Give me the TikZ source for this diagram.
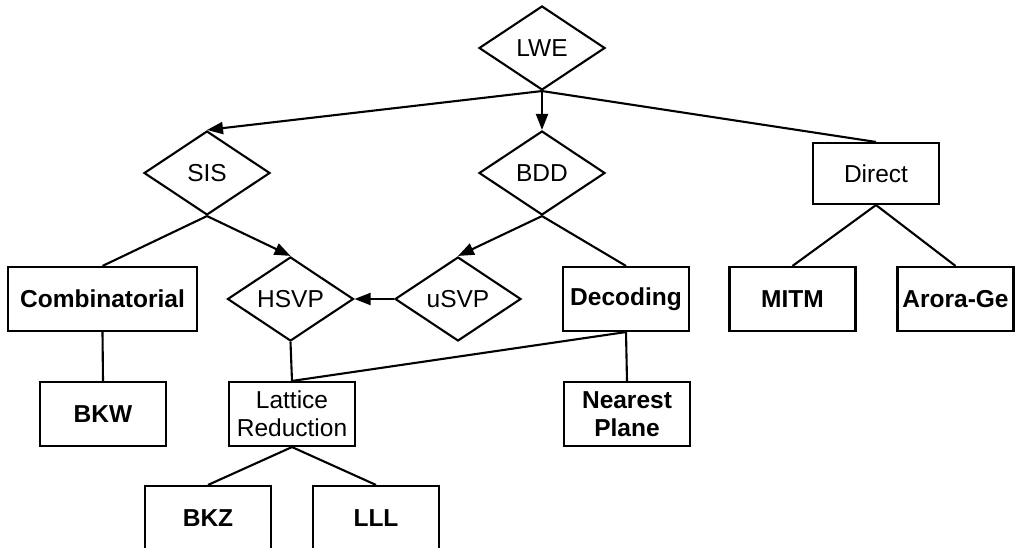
\documentclass[tikz,border=0pt]{standalone}
\usepackage{fontspec}
\setmainfont{Liberation Sans}
\usetikzlibrary{shapes.geometric,arrows.meta}
\tikzset{
dia/.style={diamond, draw, inner sep=0pt, minimum width=126pt, minimum height=84pt},
box/.style={rectangle, draw, inner sep=0pt, minimum width=126pt, minimum height=64pt, align=center},
bbox/.style={box, font=\fontsize{24.5}{28}\selectfont\bfseries},
arr/.style={-{Triangle[length=16pt,width=12pt]}}
}

\begin{document}
\begin{tikzpicture}[x=1pt, y=-1pt, line width=2.1pt, font=\fontsize{24.5}{28}\selectfont]
	\useasboundingbox (0,0) rectangle (1015,548);
	% problems
	\node[dia] (LWE) at (542,48) {LWE};
	\node[dia] (SIS) at (207,173) {SIS};
	\node[dia] (BDD) at (542,173) {BDD};
	\node[box, minimum height=61pt] (Direct) at (876,173.5) {Direct};
	\node[bbox, minimum width=189pt] (Comb) at (102.5,299) {Combinatorial};
	\node[dia] (HSVP) at (290.5,299) {HSVP};
	\node[dia] (uSVP) at (458,299) {uSVP};
	\node[bbox] (Decoding) at (626,299) {Decoding};
	\node[bbox] (MITM) at (792.5,299) {MITM};
	\node[bbox, minimum width=116pt] (Arora) at (955.5,299) {Arora-Ge};
	% algorithms
	\node[bbox] (BKW) at (103,414) {BKW};
	\node[box] (Lattice) at (292,414) {Lattice\\Reduction};
	\node[bbox] (Nearest) at (627,414) {Nearest\\Plane};
	\node[bbox] (BKZ) at (208,518) {BKZ};
	\node[bbox] (LLL) at (376,518) {LLL};
	% edges
	\draw[arr] (LWE.south) -- (SIS.north);
	\draw[arr] (LWE.south) -- (BDD.north);
	\draw (LWE.south) -- (Direct.north);
	\draw (SIS.south) -- (Comb.north);
	\draw[arr] (SIS.south) -- (HSVP.north);
	\draw[arr] (BDD.south) -- (uSVP.north);
	\draw (BDD.south) -- (Decoding.north);
	\draw[arr] (uSVP.west) -- (HSVP.east);
	\draw (Direct.south) -- (MITM.north);
	\draw (Direct.south) -- (Arora.north);
	\draw (Comb.south) -- (BKW.north);
	\draw (HSVP.south) -- (Lattice.north);
	\draw (Decoding.south) -- (Lattice.north);
	\draw (Decoding.south) -- (Nearest.north);
	\draw (Lattice.south) -- (BKZ.north);
	\draw (Lattice.south) -- (LLL.north);
\end{tikzpicture}
\end{document}
